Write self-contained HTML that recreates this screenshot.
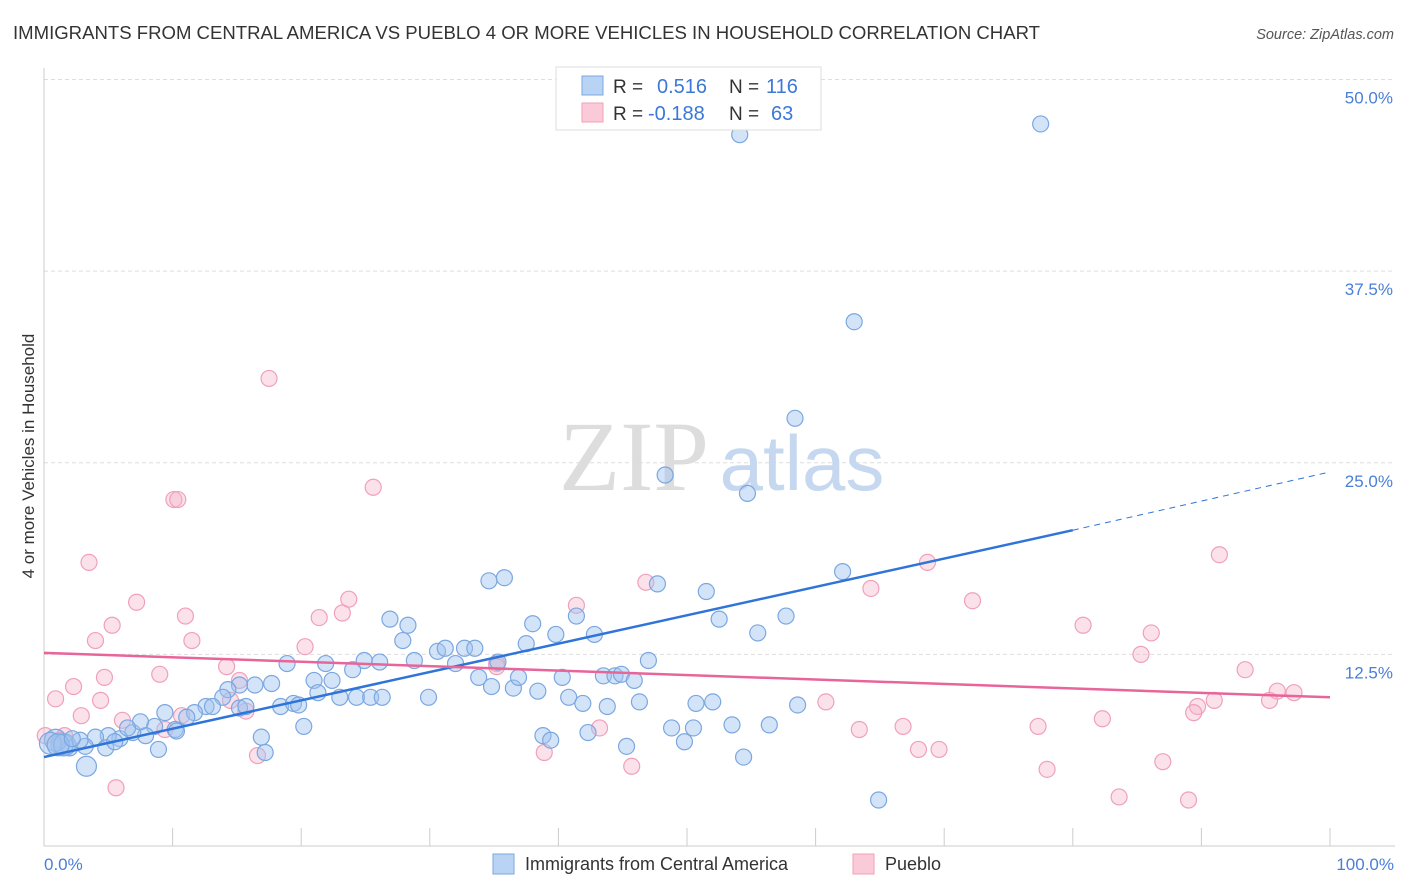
<!DOCTYPE html>
<html><head><meta charset="utf-8"><style>
body{margin:0;background:#fff;font-family:"Liberation Sans",sans-serif;}
svg{display:block}
</style></head><body>
<svg id="chart" width="1406" height="892" xmlns="http://www.w3.org/2000/svg">
<text x="13" y="39" font-size="18" fill="#333" textLength="1027" lengthAdjust="spacingAndGlyphs">IMMIGRANTS FROM CENTRAL AMERICA VS PUEBLO 4 OR MORE VEHICLES IN HOUSEHOLD CORRELATION CHART</text>
<text x="1394" y="39" font-size="14.5" fill="#555" font-style="italic" text-anchor="end">Source: ZipAtlas.com</text>
<g id="grid"></g>
<g>
<text x="634" y="490" font-size="100" font-family="Liberation Serif, serif" fill="#ddd" text-anchor="middle">ZIP</text>
<text x="802" y="490" font-size="78" fill="#c6d8f0" text-anchor="middle">atlas</text>
</g>
<line x1="44" y1="68" x2="44" y2="846" stroke="#ccc"/>
<line x1="44" y1="846" x2="1395" y2="846" stroke="#ccc"/>
<g id="ticks"></g>
<g id="ylabels"></g>
<g id="pts"></g>
<g id="trends"></g>
<text transform="translate(34,456) rotate(-90)" font-size="17" fill="#333" text-anchor="middle">4 or more Vehicles in Household</text>
<text x="44" y="870" font-size="17" fill="#4a7fd8">0.0%</text>
<text x="1394" y="870" font-size="17" fill="#4a7fd8" text-anchor="end">100.0%</text>
<g>
<rect x="556" y="67" width="265" height="63" fill="#fff" stroke="#ddd"/>
<rect x="582" y="76" width="21" height="19" fill="#b9d3f5" stroke="#7ba7e0"/>
<rect x="582" y="103" width="21" height="19" fill="#fbcad8" stroke="#f0a0bb"/>
<text x="613" y="93" font-size="19" fill="#333">R = </text><text x="657" y="93" font-size="20" fill="#3b78d8">0.516</text>
<text x="729" y="93" font-size="19" fill="#333">N = </text><text x="766" y="93" font-size="20" fill="#3b78d8">116</text>
<text x="613" y="120" font-size="19" fill="#333">R = </text><text x="648" y="120" font-size="20" fill="#3b78d8">-0.188</text>
<text x="729" y="120" font-size="19" fill="#333">N = </text><text x="771" y="120" font-size="20" fill="#3b78d8">63</text>
</g>
<g>
<rect x="493" y="854" width="21" height="20" fill="#b9d3f5" stroke="#7ba7e0"/>
<text x="525" y="870" font-size="18" fill="#333">Immigrants from Central America</text>
<rect x="853" y="854" width="21" height="20" fill="#fbcad8" stroke="#f0a0bb"/>
<text x="885" y="870" font-size="18" fill="#333">Pueblo</text>
</g>
</svg>
<script>
const yTicks=[12.5,25,37.5,50];
const yTickLabels=["12.5%","25.0%","37.5%","50.0%"];
const xTicks=[0,10,20,30,40,50,60,70,80,90,100];
const blueX=[54.1,77.5,63.0,58.4,48.3,54.7,62.1,34.6,35.8,47.7,51.5,26.9,28.3,38.0,41.4,57.7,52.5,55.5,42.8,39.8,37.5,27.9,30.6,31.2,32.7,33.5,47.0,35.3,32.0,28.8,26.1,24.9,24.0,21.9,18.9,21.0,22.4,21.3,23.0,24.3,25.4,26.3,29.9,34.8,36.5,38.4,40.3,40.8,41.9,43.5,44.4,44.9,45.9,46.3,43.8,36.9,33.8,50.7,52.0,58.6,48.8,50.5,53.5,56.4,49.8,42.3,45.3,38.8,39.4,54.4,64.9,17.7,16.4,15.2,14.3,13.9,12.6,11.7,11.1,9.4,13.1,15.2,15.7,18.4,19.4,19.8,20.2,16.9,17.2,8.6,7.9,10.2,8.9,6.9,5.9,5.0,4.0,3.2,4.8,2.0,1.4,0.9,0.5,3.3,1.6,1.1,7.5,10.3,6.5,5.5,2.8,2.2];
const blueY=[46.4,47.1,34.2,27.9,24.2,23.0,17.9,17.3,17.5,17.1,16.6,14.8,14.4,14.5,15.0,15.0,14.8,13.9,13.8,13.8,13.2,13.4,12.7,12.9,12.9,12.9,12.1,12.0,11.9,12.1,12.0,12.1,11.5,11.9,11.9,10.8,10.8,10.0,9.7,9.7,9.7,9.7,9.7,10.4,10.3,10.1,11.0,9.7,9.3,11.1,11.1,11.2,10.8,9.4,9.1,11.0,11.0,9.3,9.4,9.2,7.7,7.7,7.9,7.9,6.8,7.4,6.5,7.2,6.9,5.8,3.0,10.6,10.5,10.5,10.2,9.7,9.1,8.7,8.4,8.7,9.1,9.0,9.1,9.1,9.3,9.2,7.8,7.1,6.1,7.8,7.2,7.6,6.3,7.4,7.0,7.2,7.1,6.5,6.4,6.4,6.6,6.9,6.7,5.2,6.6,6.6,8.1,7.5,7.7,6.8,6.9,7.0];
const pinkX=[17.5,25.6,10.1,10.4,3.5,7.2,11.0,5.3,4.0,11.5,23.7,23.2,21.4,20.3,14.2,9.0,4.7,2.3,0.9,4.4,14.5,15.2,15.7,6.1,2.9,9.4,10.7,1.6,0.1,1.2,5.6,16.6,35.2,35.2,46.8,41.4,43.2,38.9,45.7,68.7,64.3,72.2,91.4,80.8,86.1,85.3,93.4,95.9,97.2,95.3,91.0,89.7,89.4,82.3,60.8,66.8,63.4,77.3,68.0,69.6,78.0,87.0,83.6,89.0];
const pinkY=[30.5,23.4,22.6,22.6,18.5,15.9,15.0,14.4,13.4,13.4,16.1,15.2,14.9,13.0,11.7,11.2,11.0,10.4,9.6,9.5,9.5,10.8,8.8,8.2,8.5,7.6,8.5,7.2,7.2,6.9,3.8,5.9,11.9,11.7,17.2,15.7,7.7,6.1,5.2,18.5,16.8,16.0,19.0,14.4,13.9,12.5,11.5,10.1,10.0,9.5,9.5,9.1,8.7,8.3,9.4,7.8,7.6,7.8,6.3,6.3,5.0,5.5,3.2,3.0];
const blueTrend=[5.8,20.6,24.4]; // at x=0,80,100
const pinkTrend=[12.6,9.7]; // at x=0,100
const NS="http://www.w3.org/2000/svg";
const sx=v=>44+v*12.86;
const sy=v=>846-v*15.33;
function mk(t,a,p){const e=document.createElementNS(NS,t);for(const k in a)e.setAttribute(k,a[k]);p.appendChild(e);return e;}
const grid=document.getElementById('grid');
yTicks.forEach((t,i)=>{
  const l=mk('line',{x1:44,x2:1395,y1:sy(t),y2:sy(t),stroke:'#ddd','stroke-dasharray':'4,3'},grid);
  
  
  const tx=mk('text',{x:1393,y:sy(t)+24,'font-size':17,fill:'#4a7fd8','text-anchor':'end'},document.getElementById('ylabels'));
  tx.textContent=yTickLabels[i];
  
  
});
const ticks=document.getElementById('ticks');
xTicks.forEach(t=>{
  const l=mk('line',{x1:sx(t),x2:sx(t),y1:828,y2:846,stroke:'#ccc'},ticks);
  
  
});
const pts=document.getElementById('pts');
pinkX.forEach((x,i)=>{
  const c=mk('circle',{cx:sx(x),cy:sy(pinkY[i]),r:8,fill:'rgba(246,180,202,0.4)',stroke:'#f0a0bb','stroke-width':1.2},pts);
  
  
});
blueX.forEach((x,i)=>{
  const r=(x<2&&blueY[i]<7.5)?11:(x<4&&blueY[i]<5.5?10:8);
  const c=mk('circle',{cx:sx(x),cy:sy(blueY[i]),r:r,fill:'rgba(160,196,240,0.45)',stroke:'#7ba7e0','stroke-width':1.2},pts);
  
  
});
const tr=document.getElementById('trends');
const b1=mk('line',{x1:sx(0),y1:sy(blueTrend[0]),x2:sx(80),y2:sy(blueTrend[1]),stroke:'#2f74d8','stroke-width':2.5},tr);


const b2=mk('line',{x1:sx(80),y1:sy(blueTrend[1]),x2:sx(100),y2:sy(blueTrend[2]),stroke:'#2f74d8','stroke-width':1,'stroke-dasharray':'6,5'},tr);


const p1=mk('line',{x1:sx(0),y1:sy(pinkTrend[0]),x2:sx(100),y2:sy(pinkTrend[1]),stroke:'#e8659a','stroke-width':2.5},tr);


</script>
</body></html>
